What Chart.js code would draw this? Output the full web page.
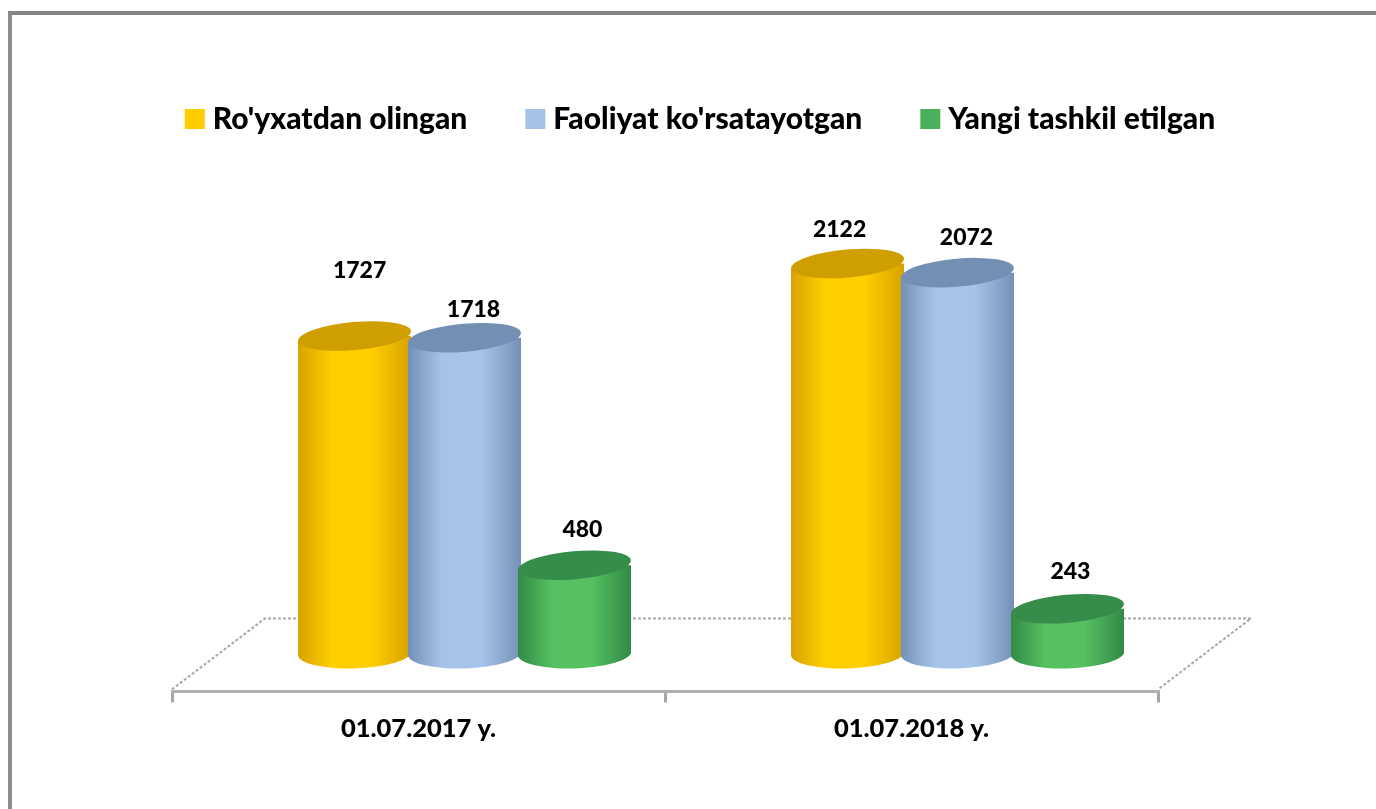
<!DOCTYPE html>
<html>
<head>
<meta charset="utf-8">
<title>Chart</title>
<script src="https://cdn.jsdelivr.net/npm/chart.js@4"></script>
<style>
    html, body { margin: 0; padding: 0; background: #fff; overflow: hidden; }
    #frame { position: absolute; left: 8px; top: 11px; right: 0; bottom: 0; border-left: 4px solid #8c8c8c; border-top: 4px solid #858585; }
    #wrap { position: absolute; left: 0; top: 0; width: 1376px; height: 809px; }
</style>
</head>
<body>
<div id="frame"></div>
<div id="wrap"><canvas id="myChart" width="1376" height="809"></canvas></div>
<script>
const categories = ["01.07.2017 y.", "01.07.2018 y."];
const seriesNames = ["Ro'yxatdan olingan", "Faoliyat ko'rsatayotgan", "Yangi tashkil etilgan"];
const registered = [1727, 2122];
const active = [1718, 2072];
const created = [480, 243];

const yMax = 2979;
const fontName = "Lato";

// cylinder looks: edge, middle, lid
const looks = [
    { edge: "#d8a200", mid: "#ffcf00", lid: "#cf9f00", flat: "#ffcc00" },
    { edge: "#7490b6", mid: "#a6c4ea", lid: "#7390b4", flat: "#a4c2e8" },
    { edge: "#318a45", mid: "#56c062", lid: "#368c49", flat: "#4cb05a" }
];

// the bars stand in the middle of the 3d floor
const depthX = 46, depthY = -38;
const backX = 93, backY = 73;
const catPercent = 0.669, barPercent = 1.03;
const lidRy = 14, lidTilt = -0.088, footTilt = -0.03;

// where each value label sits from the lid centre, series by category
const labelShift = [
    [[5, -65], [-8, -34]],
    [[9, -28], [9, -35]],
    [[8, -36], [3, -37]]
];

function cylinderFill(c) {
    const look = looks[c.datasetIndex];
    if (c.dataIndex === undefined) return look.flat;
    const sx = c.chart.scales.x;
    if (!sx) return look.flat;
    const slot = sx.width / categories.length * catPercent / 3;
    const mid = sx.getPixelForValue(c.dataIndex) + (c.datasetIndex - 1) * slot;
    const half = slot * barPercent / 2;
    const g = c.chart.ctx.createLinearGradient(mid - half, 0, mid + half, 0);
    g.addColorStop(0, look.edge);
    g.addColorStop(0.3, look.mid);
    g.addColorStop(0.65, look.mid);
    g.addColorStop(1, look.edge);
    return g;
}

const cylinders = {
    id: "cylinders",
    beforeDatasetsDraw(chart) {
        // floor of the 3d box
        const ctx = chart.ctx, a = chart.chartArea;
        ctx.save();
        ctx.strokeStyle = "#a8a8a8";
        ctx.lineWidth = 2;
        ctx.setLineDash([3, 2]);
        ctx.beginPath();
        ctx.moveTo(a.left, a.bottom - 2);
        ctx.lineTo(a.left + backX, a.bottom - backY);
        ctx.lineTo(a.right + backX, a.bottom - backY);
        ctx.lineTo(a.right, a.bottom - 2);
        ctx.stroke();
        ctx.restore();
    },
    beforeDatasetDraw() {
        return false; // drawn below, left to right, so the right bar overlaps
    },
    afterDatasetsDraw(chart) {
        const ctx = chart.ctx;
        chart.data.datasets.forEach(function (ds, i) {
            const meta = chart.getDatasetMeta(i);
            ctx.save();
            ctx.translate(depthX, depthY);
            meta.data.forEach(function (bar, j) {
                const fill = cylinderFill({ chart: chart, datasetIndex: i, dataIndex: j });
                ctx.fillStyle = fill;
                ctx.beginPath();
                ctx.ellipse(bar.x, bar.base, bar.width / 2, lidRy + 1, footTilt, 0, Math.PI * 2);
                ctx.fill();
            });
            // cut the square top corners away so only the lid shows
            ctx.beginPath();
            meta.data.forEach(function (bar) {
                const half = bar.width / 2, drop = Math.tan(-lidTilt) * half;
                ctx.moveTo(bar.x - half, bar.y + drop);
                ctx.lineTo(bar.x + half, bar.y - drop);
                ctx.lineTo(bar.x + half, bar.base + 20);
                ctx.lineTo(bar.x - half, bar.base + 20);
                ctx.closePath();
            });
            ctx.save();
            ctx.clip();
            meta.controller.draw();
            ctx.restore();
            meta.data.forEach(function (bar) {
                ctx.fillStyle = looks[i].lid;
                ctx.beginPath();
                ctx.ellipse(bar.x, bar.y, bar.width / 2, lidRy, lidTilt, 0, Math.PI * 2);
                ctx.fill();
            });
            ctx.restore();
        });
        // value labels
        ctx.save();
        ctx.fillStyle = "#000";
        ctx.font = "900 23px " + fontName;
        ctx.textAlign = "center";
        ctx.textBaseline = "middle";
        chart.data.datasets.forEach(function (ds, i) {
            chart.getDatasetMeta(i).data.forEach(function (bar, j) {
                const s = labelShift[i][j];
                ctx.fillText(String(ds.data[j]), bar.x + depthX + s[0], bar.y + depthY + s[1]);
            });
        });
        ctx.restore();
    }
};

new Chart(document.getElementById("myChart").getContext("2d"), {
    type: "bar",
    data: {
        labels: categories,
        datasets: [registered, active, created].map(function (values, i) {
            return {
                label: seriesNames[i],
                data: values,
                backgroundColor: cylinderFill,
                categoryPercentage: catPercent,
                barPercentage: barPercent,
                clip: false
            };
        })
    },
    plugins: [cylinders],
    options: {
        responsive: false,
        animation: false,
        layout: { padding: { left: 31, right: 0, top: 39, bottom: 54 } },
        scales: {
            x: {
                grid: { offset: true, drawOnChartArea: false, color: "#a6a6a6", lineWidth: 3, tickLength: 11 },
                border: { color: "#b0b0b0", width: 3 },
                ticks: { color: "#000", font: { family: fontName, weight: "900", size: 25.5 }, padding: 11, maxRotation: 0 }
            },
            y: {
                min: 0, max: yMax,
                grid: { display: false }, border: { display: false }, ticks: { display: false },
                afterFit(s) { s.width = 141; }
            },
            yRight: {
                position: "right",
                min: 0, max: yMax,
                grid: { display: false }, border: { display: false }, ticks: { display: false },
                afterFit(s) { s.width = 218; }
            }
        },
        plugins: {
            tooltip: { enabled: false },
            legend: {
                position: "top",
                labels: {
                    color: "#000",
                    boxWidth: 6,
                    boxHeight: 6,
                    padding: 65,
                    font: { family: fontName, weight: "900", size: 30 },
                    generateLabels(chart) {
                        return seriesNames.map(function (name, i) {
                            return { text: name, fillStyle: looks[i].flat, strokeStyle: looks[i].flat, lineWidth: 14, datasetIndex: i };
                        });
                    }
                }
            }
        }
    }
});
</script>
</body>
</html>
